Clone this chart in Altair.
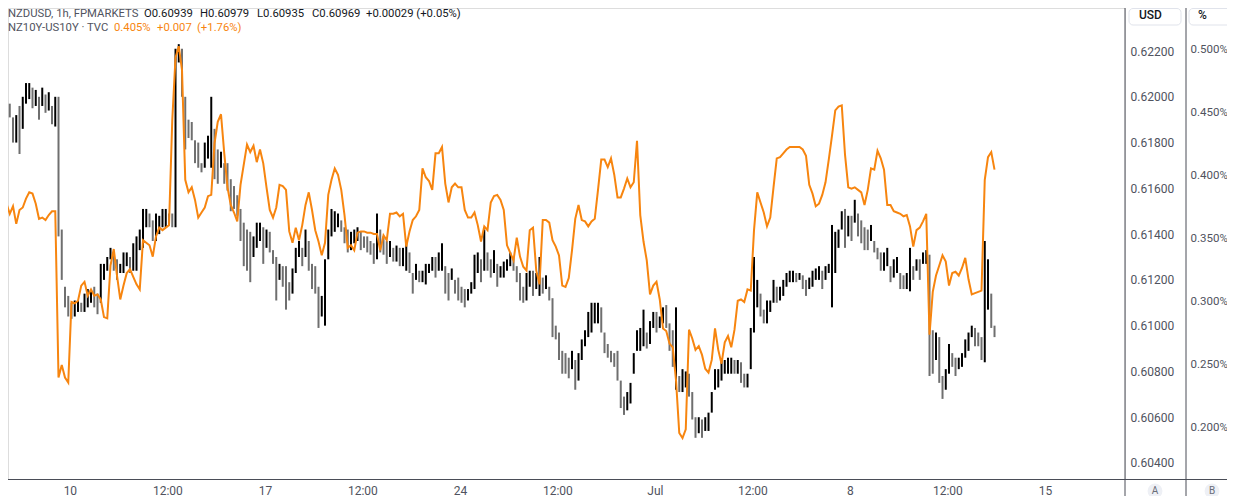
import altair as alt
import pandas as pd

# ---------------- data (2-hour sampling) ----------------
usd_high = [
    0.6215, 0.6211, 0.6206, 0.6197, 0.6191, 0.6192, 0.6196, 0.6200, 0.6206, 0.6206,
    0.6204, 0.6203, 0.6200, 0.6204, 0.6201, 0.6202, 0.6196, 0.6200, 0.6200, 0.6142,
    0.6117, 0.6113, 0.6110, 0.6111, 0.6111, 0.6110, 0.6114, 0.6116, 0.6116, 0.6117,
    0.6114, 0.6127, 0.6127, 0.6130, 0.6134, 0.6132, 0.6129, 0.6127, 0.6132, 0.6132,
    0.6130, 0.6136, 0.6139, 0.6142, 0.6151, 0.6151, 0.6149, 0.6146, 0.6149, 0.6148,
    0.6151, 0.6151, 0.6149, 0.6149, 0.6221, 0.6223, 0.6221, 0.6200, 0.6190, 0.6189,
    0.6181, 0.6180, 0.6171, 0.6180, 0.6183, 0.6200, 0.6186, 0.6177, 0.6176, 0.6171,
    0.6171, 0.6164, 0.6161, 0.6157, 0.6151, 0.6145, 0.6142, 0.6141, 0.6139, 0.6145,
    0.6145, 0.6143, 0.6142, 0.6141, 0.6133, 0.6130, 0.6127, 0.6126, 0.6126, 0.6119,
    0.6125, 0.6134, 0.6137, 0.6134, 0.6142, 0.6137, 0.6127, 0.6126, 0.6117, 0.6113,
    0.6129, 0.6142, 0.6151, 0.6150, 0.6149, 0.6146, 0.6143, 0.6142, 0.6141, 0.6142,
    0.6143, 0.6141, 0.6139, 0.6139, 0.6137, 0.6136, 0.6149, 0.6142, 0.6139, 0.6137,
    0.6137, 0.6134, 0.6135, 0.6134, 0.6134, 0.6137, 0.6132, 0.6123, 0.6127, 0.6124,
    0.6124, 0.6127, 0.6127, 0.6130, 0.6130, 0.6132, 0.6136, 0.6126, 0.6123, 0.6125,
    0.6120, 0.6121, 0.6117, 0.6116, 0.6116, 0.6119, 0.6131, 0.6132, 0.6129, 0.6142,
    0.6132, 0.6129, 0.6133, 0.6127, 0.6126, 0.6128, 0.6129, 0.6132, 0.6130, 0.6126,
    0.6123, 0.6117, 0.6123, 0.6124, 0.6124, 0.6123, 0.6130, 0.6121, 0.6122, 0.6117,
    0.6112, 0.6100, 0.6097, 0.6089, 0.6088, 0.6086, 0.6089, 0.6085, 0.6088, 0.6094,
    0.6098, 0.6106, 0.6110, 0.6110, 0.6110, 0.6108, 0.6097, 0.6092, 0.6089, 0.6088,
    0.6089, 0.6076, 0.6069, 0.6071, 0.6075, 0.6088, 0.6098, 0.6099, 0.6107, 0.6097,
    0.6102, 0.6106, 0.6106, 0.6104, 0.6108, 0.6109, 0.6101, 0.6098, 0.6108, 0.6078,
    0.6081, 0.6080, 0.6079, 0.6071, 0.6060, 0.6060, 0.6059, 0.6060, 0.6062, 0.6071,
    0.6081, 0.6081, 0.6085, 0.6085, 0.6086, 0.6086, 0.6085, 0.6085, 0.6084, 0.6079,
    0.6079, 0.6099, 0.6130, 0.6120, 0.6114, 0.6107, 0.6111, 0.6111, 0.6120, 0.6117,
    0.6117, 0.6120, 0.6123, 0.6124, 0.6124, 0.6123, 0.6123, 0.6122, 0.6120, 0.6121,
    0.6124, 0.6125, 0.6126, 0.6124, 0.6126, 0.6127, 0.6144, 0.6141, 0.6142, 0.6150,
    0.6151, 0.6148, 0.6148, 0.6155, 0.6149, 0.6146, 0.6143, 0.6142, 0.6144, 0.6137,
    0.6134, 0.6132, 0.6132, 0.6134, 0.6126, 0.6129, 0.6130, 0.6123, 0.6122, 0.6123,
    0.6134, 0.6126, 0.6129, 0.6129, 0.6132, 0.6133, 0.6131, 0.6098, 0.6097, 0.6095,
    0.6078, 0.6081, 0.6092, 0.6088, 0.6086, 0.6086, 0.6088, 0.6094, 0.6097, 0.6100,
    0.6099, 0.6097, 0.6095, 0.6137, 0.6129, 0.6114, 0.6100,
]
usd_low = [
    0.6206, 0.6204, 0.6196, 0.6191, 0.6180, 0.6180, 0.6175, 0.6186, 0.6197, 0.6199,
    0.6195, 0.6196, 0.6190, 0.6196, 0.6193, 0.6194, 0.6188, 0.6187, 0.6139, 0.6120,
    0.6108, 0.6104, 0.6103, 0.6104, 0.6106, 0.6106, 0.6106, 0.6108, 0.6110, 0.6108,
    0.6105, 0.6110, 0.6120, 0.6124, 0.6129, 0.6124, 0.6120, 0.6123, 0.6123, 0.6126,
    0.6123, 0.6124, 0.6124, 0.6133, 0.6134, 0.6143, 0.6143, 0.6137, 0.6137, 0.6140,
    0.6143, 0.6143, 0.6144, 0.6143, 0.6143, 0.6215, 0.6200, 0.6177, 0.6182, 0.6181,
    0.6171, 0.6169, 0.6167, 0.6169, 0.6173, 0.6169, 0.6164, 0.6162, 0.6169, 0.6162,
    0.6159, 0.6150, 0.6151, 0.6148, 0.6137, 0.6126, 0.6124, 0.6119, 0.6130, 0.6134,
    0.6137, 0.6127, 0.6134, 0.6132, 0.6127, 0.6111, 0.6120, 0.6117, 0.6107, 0.6111,
    0.6114, 0.6123, 0.6130, 0.6126, 0.6130, 0.6124, 0.6116, 0.6114, 0.6099, 0.6104,
    0.6100, 0.6129, 0.6139, 0.6141, 0.6143, 0.6141, 0.6136, 0.6132, 0.6133, 0.6136,
    0.6137, 0.6133, 0.6134, 0.6132, 0.6131, 0.6127, 0.6129, 0.6132, 0.6131, 0.6127,
    0.6130, 0.6128, 0.6128, 0.6126, 0.6126, 0.6124, 0.6123, 0.6114, 0.6120, 0.6119,
    0.6119, 0.6118, 0.6123, 0.6124, 0.6121, 0.6124, 0.6124, 0.6114, 0.6111, 0.6120,
    0.6114, 0.6111, 0.6110, 0.6108, 0.6111, 0.6114, 0.6116, 0.6123, 0.6119, 0.6124,
    0.6124, 0.6121, 0.6123, 0.6117, 0.6121, 0.6121, 0.6124, 0.6126, 0.6124, 0.6119,
    0.6111, 0.6110, 0.6111, 0.6117, 0.6113, 0.6116, 0.6113, 0.6114, 0.6116, 0.6111,
    0.6095, 0.6094, 0.6085, 0.6079, 0.6079, 0.6077, 0.6081, 0.6072, 0.6076, 0.6085,
    0.6091, 0.6095, 0.6097, 0.6101, 0.6101, 0.6097, 0.6088, 0.6086, 0.6084, 0.6082,
    0.6076, 0.6064, 0.6061, 0.6063, 0.6066, 0.6079, 0.6089, 0.6089, 0.6091, 0.6090,
    0.6092, 0.6099, 0.6097, 0.6099, 0.6101, 0.6099, 0.6089, 0.6082, 0.6072, 0.6071,
    0.6071, 0.6073, 0.6069, 0.6059, 0.6051, 0.6053, 0.6051, 0.6054, 0.6054, 0.6062,
    0.6072, 0.6073, 0.6076, 0.6079, 0.6079, 0.6079, 0.6079, 0.6079, 0.6075, 0.6073,
    0.6073, 0.6081, 0.6097, 0.6108, 0.6104, 0.6101, 0.6101, 0.6106, 0.6110, 0.6110,
    0.6111, 0.6113, 0.6117, 0.6119, 0.6119, 0.6119, 0.6120, 0.6116, 0.6113, 0.6116,
    0.6117, 0.6120, 0.6120, 0.6116, 0.6120, 0.6123, 0.6108, 0.6123, 0.6134, 0.6142,
    0.6134, 0.6139, 0.6137, 0.6145, 0.6139, 0.6136, 0.6133, 0.6133, 0.6137, 0.6132,
    0.6129, 0.6124, 0.6124, 0.6126, 0.6119, 0.6121, 0.6123, 0.6116, 0.6116, 0.6116,
    0.6115, 0.6120, 0.6124, 0.6120, 0.6127, 0.6127, 0.6078, 0.6079, 0.6085, 0.6075,
    0.6068, 0.6072, 0.6079, 0.6082, 0.6078, 0.6081, 0.6082, 0.6086, 0.6089, 0.6095,
    0.6091, 0.6091, 0.6085, 0.6084, 0.6107, 0.6099, 0.6095,
]
spread_pct = [
    0.409, 0.379, 0.378, 0.370, 0.376, 0.362, 0.373, 0.375, 0.382, 0.387,
    0.386, 0.378, 0.366, 0.367, 0.365, 0.369, 0.372, 0.372, 0.240, 0.250,
    0.240, 0.236, 0.300, 0.299, 0.301, 0.313, 0.316, 0.305, 0.310, 0.305,
    0.306, 0.302, 0.288, 0.287, 0.329, 0.342, 0.321, 0.302, 0.313, 0.323,
    0.326, 0.320, 0.314, 0.310, 0.349, 0.347, 0.345, 0.336, 0.352, 0.359,
    0.357, 0.359, 0.361, 0.444, 0.494, 0.503, 0.484, 0.397, 0.387, 0.391,
    0.381, 0.367, 0.371, 0.375, 0.384, 0.385, 0.426, 0.443, 0.449, 0.418,
    0.391, 0.377, 0.371, 0.364, 0.393, 0.409, 0.425, 0.419, 0.424, 0.411,
    0.421, 0.410, 0.391, 0.373, 0.367, 0.375, 0.393, 0.392, 0.389, 0.356,
    0.347, 0.359, 0.349, 0.361, 0.377, 0.387, 0.373, 0.357, 0.348, 0.337,
    0.347, 0.385, 0.397, 0.406, 0.401, 0.389, 0.369, 0.343, 0.345, 0.341,
    0.355, 0.356, 0.356, 0.355, 0.355, 0.354, 0.354, 0.341, 0.353, 0.349,
    0.370, 0.370, 0.371, 0.368, 0.370, 0.344, 0.356, 0.365, 0.368, 0.373,
    0.406, 0.399, 0.396, 0.389, 0.418, 0.418, 0.423, 0.394, 0.379, 0.391,
    0.394, 0.391, 0.391, 0.373, 0.367, 0.367, 0.371, 0.361, 0.348, 0.360,
    0.357, 0.379, 0.384, 0.385, 0.381, 0.373, 0.345, 0.339, 0.333, 0.351,
    0.336, 0.328, 0.325, 0.357, 0.359, 0.325, 0.314, 0.365, 0.365, 0.363,
    0.349, 0.344, 0.337, 0.313, 0.312, 0.319, 0.341, 0.366, 0.377, 0.365,
    0.364, 0.360, 0.364, 0.366, 0.389, 0.413, 0.413, 0.407, 0.414, 0.401,
    0.383, 0.383, 0.390, 0.398, 0.391, 0.395, 0.428, 0.369, 0.348, 0.333,
    0.306, 0.313, 0.316, 0.302, 0.279, 0.277, 0.267, 0.264, 0.238, 0.196,
    0.192, 0.199, 0.278, 0.271, 0.262, 0.265, 0.258, 0.247, 0.244, 0.254,
    0.279, 0.262, 0.251, 0.268, 0.273, 0.264, 0.278, 0.301, 0.302, 0.300,
    0.310, 0.309, 0.357, 0.387, 0.379, 0.371, 0.360, 0.367, 0.391, 0.414,
    0.415, 0.418, 0.421, 0.423, 0.423, 0.423, 0.423, 0.421, 0.416, 0.393,
    0.386, 0.376, 0.378, 0.385, 0.395, 0.413, 0.432, 0.452, 0.455, 0.456,
    0.417, 0.391, 0.390, 0.391, 0.389, 0.387, 0.377, 0.389, 0.406, 0.405,
    0.420, 0.414, 0.405, 0.377, 0.377, 0.372, 0.371, 0.370, 0.368, 0.369,
    0.360, 0.344, 0.357, 0.359, 0.364, 0.370, 0.274, 0.308, 0.321, 0.329,
    0.337, 0.332, 0.313, 0.323, 0.324, 0.321, 0.327, 0.335, 0.318, 0.306,
    0.307, 0.308, 0.309, 0.397, 0.415, 0.419, 0.405,
]
bar_step_hours = 2
tick_hours = [43, 103, 163, 223, 283, 343, 403, 463, 523, 583, 643]
tick_labels = ["10", "12:00", "17", "12:00", "24", "12:00", "Jul", "12:00", "8", "12:00", "15"]
usd_ticks = [0.604, 0.606, 0.608, 0.610, 0.612, 0.614, 0.616, 0.618, 0.620, 0.622]
pct_ticks = [0.20, 0.25, 0.30, 0.35, 0.40, 0.45, 0.50]

# ---------------- styling ----------------
FONT = "Roboto"
ORANGE = "#f7850f"
TXT = "#131722"
GRAY = "#50535e"
LINE = "#4a4d57"
W, H = 1117, 471

hours = [i * bar_step_hours for i in range(len(usd_high))]
mids = [(a + b) / 2 for a, b in zip(usd_high, usd_low)]
direction = ["up" if i == 0 or mids[i] >= mids[i - 1] else "down" for i in range(len(mids))]
df = pd.DataFrame({"hour": hours, "high": usd_high, "low": usd_low,
                   "pct": spread_pct, "dir": direction})

x_scale = alt.Scale(domain=[4.92, 692.3], nice=False, zero=False)
usd_scale = alt.Scale(domain=[0.6033, 0.62388], nice=False, zero=False)
pct_scale = alt.Scale(domain=[0.1595, 0.53333], nice=False, zero=False)

label_expr = ("[" + ",".join(f"'{t}'" for t in tick_labels) + "][indexof(["
              + ",".join(str(t) for t in tick_hours) + "], datum.value)]")

x_axis = alt.Axis(values=tick_hours, labelExpr=label_expr, grid=False, ticks=False,
                  domain=False, labelColor=GRAY, labelFontSize=12, labelFont=FONT,
                  labelPadding=6, title=None, labelFlush=False, labelOverlap=False)

bars = alt.Chart(df).mark_rule(strokeWidth=2, clip=True).encode(
    x=alt.X("hour:Q", scale=x_scale, axis=x_axis),
    y=alt.Y("low:Q", scale=usd_scale,
            axis=alt.Axis(orient="right", values=usd_ticks, format=".5f", grid=False,
                          ticks=False, domain=False, labelPadding=5, labelColor=GRAY,
                          labelFontSize=12, labelFont=FONT, title=None,
                          labelOverlap=False, labelFlush=False)),
    y2="high:Q",
    color=alt.Color("dir:N", scale=alt.Scale(domain=["up", "down"],
                                              range=["#000000", "#6f6f6f"]), legend=None),
)

line = alt.Chart(df).mark_line(color=ORANGE, strokeWidth=2, clip=True).encode(
    x=alt.X("hour:Q", scale=x_scale, axis=None),
    y=alt.Y("pct:Q", scale=pct_scale,
            axis=alt.Axis(orient="right", offset=61, values=pct_ticks,
                          labelExpr="format(datum.value, '.3f') + '%'", grid=False,
                          ticks=False, domain=False, labelPadding=4, labelColor=GRAY,
                          labelFontSize=11.5, labelFont=FONT, title=None,
                          labelOverlap=False, labelFlush=False)),
)

# ---------------- legend text (top-left) ----------------
legend_df = pd.DataFrame({
    "t": ["NZDUSD, 1h, FPMARKETS", "O0.60939", "H0.60979", "L0.60935", "C0.60969",
          "+0.00029 (+0.05%)", "NZ10Y-US10Y · TVC", "0.405%", "+0.007", "(+1.76%)"],
    "px": [0, 136, 192, 249, 304, 358, 0, 106, 149, 189],
    "py": [6, 6, 6, 6, 6, 6, 20, 20, 20, 20],
    "c": [GRAY, TXT, TXT, TXT, TXT, TXT, GRAY, ORANGE, ORANGE, ORANGE],
})
legend = alt.Chart(legend_df).mark_text(align="left", baseline="middle", font=FONT,
                                        fontSize=11.3, clip=False).encode(
    x=alt.X("px:Q", scale=None, axis=None),
    y=alt.Y("py:Q", scale=None, axis=None),
    color=alt.Color("c:N", scale=None, legend=None),
    text="t:N",
)

one = pd.DataFrame({"k": [0]})

def vrule(xp):
    return alt.Chart(one).mark_rule(color=LINE, strokeWidth=1, clip=False).encode(
        x=alt.value(xp), y=alt.value(0), y2=alt.value(488))

hrule = alt.Chart(one).mark_rule(color=LINE, strokeWidth=1, clip=False).encode(
    x=alt.value(0), x2=alt.value(1219), y=alt.value(471.5))

box_df = pd.DataFrame({"x1": [1121, 1181], "x2": [1173, 1226], "y1": [0.5, 0.5], "y2": [17, 17]})
boxes = alt.Chart(box_df).mark_rect(fill="white", stroke="#e0e3eb", strokeWidth=1,
                                    cornerRadius=4, clip=False).encode(
    x=alt.X("x1:Q", scale=None, axis=None), x2="x2:Q",
    y=alt.Y("y1:Q", scale=None, axis=None), y2="y2:Q")

head_df = pd.DataFrame({"t": ["USD", "%"], "px": [1131, 1190], "py": [7, 7]})
heads = alt.Chart(head_df).mark_text(align="left", baseline="middle", font=FONT,
                                     fontSize=12, fontWeight=500, color=TXT, clip=False).encode(
    x=alt.X("px:Q", scale=None, axis=None), y=alt.Y("py:Q", scale=None, axis=None), text="t:N")

ab_df = pd.DataFrame({"t": ["A", "B"], "px": [1147, 1204], "py": [483, 483]})
ab_circ = alt.Chart(ab_df).mark_circle(size=220, color="#eef0f5", opacity=1, clip=False).encode(
    x=alt.X("px:Q", scale=None, axis=None), y=alt.Y("py:Q", scale=None, axis=None))
ab_txt = alt.Chart(ab_df).mark_text(font=FONT, fontSize=10, color="#6a6d78", clip=False).encode(
    x=alt.X("px:Q", scale=None, axis=None), y=alt.Y("py:Q", scale=None, axis=None), text="t:N")

chart = alt.layer(
    bars, line, legend, vrule(1117), vrule(1178), hrule, boxes, heads, ab_circ, ab_txt
).resolve_scale(
    x="independent", y="independent", color="independent"
).properties(
    width=W, height=H,
    autosize=alt.AutoSizeParams(type="none"),
    padding={"left": 0, "top": 0, "right": 102, "bottom": 17},
).configure_view(strokeWidth=0).configure(background="white")

chart.save("out.html", embed_options={"renderer": "svg", "actions": False})
